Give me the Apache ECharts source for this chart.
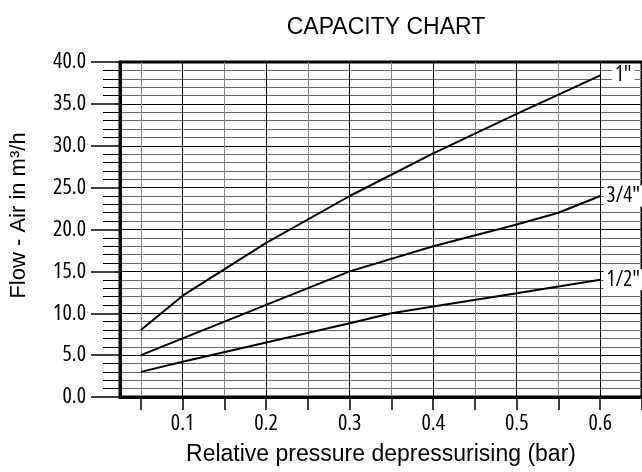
<!DOCTYPE html>
<html><head><meta charset="utf-8">
<script src="https://cdn.jsdelivr.net/npm/echarts@6/dist/echarts.min.js"></script>
<style>html,body{margin:0;padding:0;background:#fff}#c{width:642px;height:472px}</style>
</head><body><div id="c"></div>
<script>
const titleText = 'CAPACITY CHART';
const xName = 'Relative pressure depressurising (bar)';
const yName = 'Flow - Air in m³/h';
const xTickLabels = [0.1, 0.2, 0.3, 0.4, 0.5, 0.6];
const xTickMarks = [0.05, 0.1, 0.15, 0.2, 0.25, 0.3, 0.35, 0.4, 0.45, 0.5, 0.55, 0.6, 0.65];
const seriesNames = ['1"', '3/4"', '1/2"'];
const p1 = [0.05, 0.1, 0.2, 0.3, 0.4, 0.5, 0.6];
const q1 = [8.0, 12.1, 18.4, 24.0, 29.1, 33.8, 38.4];
const p34 = [0.05, 0.1, 0.2, 0.3, 0.4, 0.5, 0.55, 0.6];
const q34 = [5.0, 7.0, 11.0, 15.0, 18.0, 20.6, 22.0, 24.0];
const p12 = [0.05, 0.1, 0.2, 0.3, 0.35, 0.4, 0.5, 0.6];
const q12 = [3.0, 4.2, 6.5, 8.8, 10.0, 10.8, 12.4, 14.0];

const NARROW = '"Open Sans", "Liberation Sans", Arial, sans-serif';
const COND = 'condensed';
const REG = '"Liberation Sans", Arial, sans-serif';

function mk(name, xs, ys) {
  return {
    name: name, type: 'line', symbol: 'none', silent: true, animation: false,
    data: xs.map((x, i) => [x, ys[i]]),
    lineStyle: { color: '#000', width: 2 },
    endLabel: {
      show: true, formatter: () => name, distance: 23, align: 'center', verticalAlign: 'middle',
      backgroundColor: '#fff', padding: [0, 3], color: '#000', fontFamily: NARROW, fontWeight: COND, fontSize: 21
    }
  };
}
const chart = echarts.init(document.getElementById('c'));
chart.setOption({
  animation: false,
  backgroundColor: '#fff',
  title: {
    text: titleText, left: 381, top: 11, textAlign: 'center',
    textStyle: { fontFamily: REG, fontSize: 23, fontWeight: 'normal', color: '#000' }
  },
  grid: { left: 120, top: 62, right: -2, bottom: 75, show: true, borderColor: '#000', borderWidth: 3 },
  xAxis: {
    type: 'value', min: 0.025, max: 0.65, interval: 0.025,
    axisLine: { show: true, lineStyle: { color: '#000', width: 3 } },
    axisTick: { show: true, customValues: xTickMarks, length: 13, lineStyle: { color: '#000', width: 1.5 } },
    axisLabel: { customValues: xTickLabels, formatter: v => Number(v).toFixed(1), margin: 16,
      fontFamily: NARROW, fontWeight: COND, fontSize: 22, color: '#000' },
    splitLine: { show: true, lineStyle: { color: ['#888', '#000'], width: 1 } },
    name: xName, nameLocation: 'middle', nameGap: 46,
    nameTextStyle: { fontFamily: REG, fontSize: 23, color: '#000' }
  },
  yAxis: {
    type: 'value', min: 0, max: 40, interval: 5,
    axisLine: { show: true, lineStyle: { color: '#000', width: 3 } },
    axisTick: { show: true, length: 29, lineStyle: { color: '#000', width: 1.5 } },
    minorTick: { show: true, splitNumber: 5, length: 17, lineStyle: { color: '#000', width: 1 } },
    axisLabel: { formatter: v => Number(v).toFixed(1), margin: 34, fontFamily: NARROW, fontWeight: COND, fontSize: 22, color: '#000' },
    splitLine: { show: true, lineStyle: { color: '#000', width: 1 } },
    minorSplitLine: { show: true, lineStyle: { color: '#666', width: 1 } },
    name: yName, nameLocation: 'middle', nameGap: 90,
    nameTextStyle: { fontFamily: REG, fontSize: 22, color: '#000', padding: [0, 0, 0, 28] }
  },
  series: [mk(seriesNames[0], p1, q1), mk(seriesNames[1], p34, q34), mk(seriesNames[2], p12, q12)]
});
</script></body></html>
